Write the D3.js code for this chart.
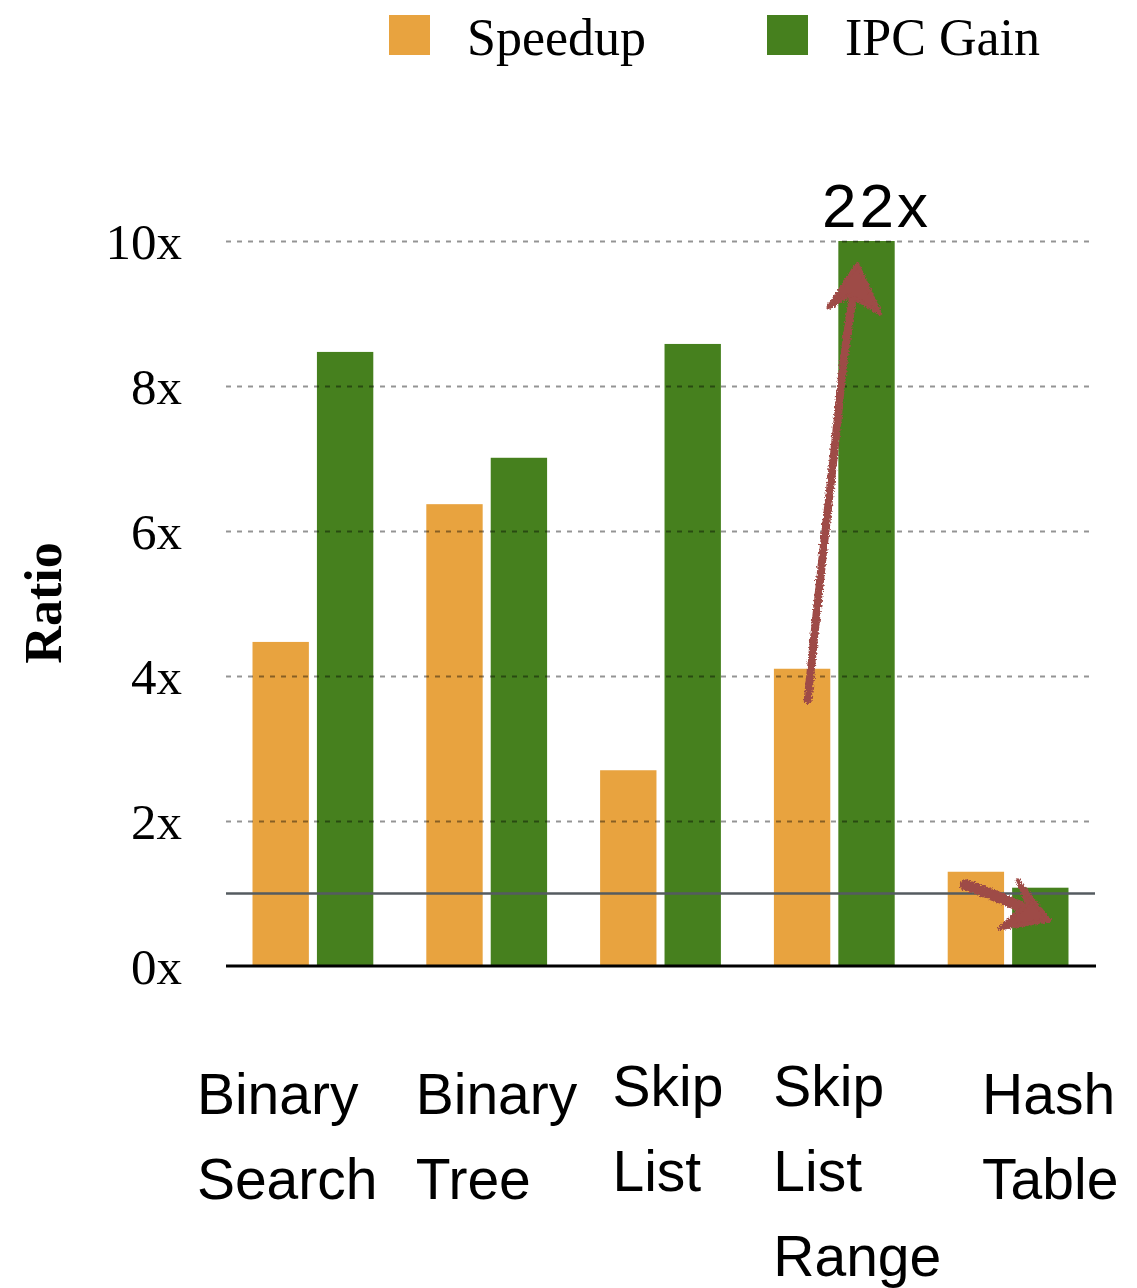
<!DOCTYPE html>
<html>
<head>
<meta charset="utf-8">
<script src="https://cdn.jsdelivr.net/npm/d3@7"></script>
<style>
  html, body { margin: 0; padding: 0; background: #fff; }
  svg { display: block; }
</style>
</head>
<body>
<svg id="chart" width="1137" height="1288"></svg>
<script>
// ---- data ----
const categories = ["Binary Search", "Binary Tree", "Skip List", "Skip List Range", "Hash Table"];
const categoryLines = [["Binary", "Search"], ["Binary", "Tree"], ["Skip", "List"], ["Skip", "List", "Range"], ["Hash", "Table"]];
const seriesNames = ["Speedup", "IPC Gain"];
const speedup = [4.47, 6.37, 2.70, 4.10, 1.30];
const ipcGain = [8.47, 7.01, 8.58, 22, 1.08];
const yTicks = [0, 2, 4, 6, 8, 10];
const yMax = 10;
const overflowLabel = "22x";

// hand-drawn annotation arrows, in (category, fraction across group, value) space
const arrowUpShaft = [[3, 0.28, 3.67], [3, 0.40, 5.6], [3, 0.50, 7.1], [3, 0.59, 8.5], [3, 0.68, 9.5]];
const arrowUpHead = [[3, 0.69, 9.68], [3, 0.45, 9.08], [3, 0.63, 9.25], [3, 0.88, 9.0]];
const arrowDownShaft = [[4, 0.145, 1.12], [4, 0.45, 0.93], [4, 0.76, 0.70]];
const arrowDownHead = [[4, 0.84, 0.63], [4, 0.58, 1.18], [4, 0.66, 0.86], [4, 0.43, 0.52]];

// ---- layout ----
const colors = ["#E8A33F", "#46801E"];
const plot = { left: 226, right: 1095, top: 241, bottom: 966 };
const serif = "'Liberation Serif', 'Times New Roman', Times, serif";
const sans = "'Liberation Sans', Arial, Helvetica, sans-serif";
// per-category nudges for the multi-line category labels
const labelShiftX = [-116, -71, -48, -61, -26];
const labelShiftY = [0, 0, -8, -8, 0];

const svg = d3.select("#chart");

const defs = svg.append("defs");
const rough = defs.append("filter").attr("id", "rough")
  .attr("x", "-20%").attr("y", "-20%").attr("width", "140%").attr("height", "140%");
rough.append("feTurbulence").attr("type", "fractalNoise").attr("baseFrequency", 0.55)
  .attr("numOctaves", 2).attr("seed", 3).attr("result", "noise");
rough.append("feDisplacementMap").attr("in", "SourceGraphic").attr("in2", "noise")
  .attr("scale", 5).attr("xChannelSelector", "R").attr("yChannelSelector", "G");

const x = d3.scaleBand().domain(categories).range([plot.left, plot.right])
  .paddingInner(0.305).paddingOuter(0.1525);
const xs = d3.scaleBand().domain(seriesNames).range([0, x.bandwidth()]).paddingInner(0.125).paddingOuter(0);
const y = d3.scaleLinear().domain([0, yMax]).range([plot.bottom, plot.top]).clamp(true);

const rows = categories.map((c, i) => ({ cat: c, values: [speedup[i], ipcGain[i]] }));

// bars
const groups = svg.append("g").selectAll("g").data(rows).join("g")
  .attr("transform", d => `translate(${x(d.cat)},0)`);
groups.selectAll("rect").data(d => d.values.map((v, k) => ({ key: seriesNames[k], v, k })))
  .join("rect")
  .attr("x", d => xs(d.key))
  .attr("width", xs.bandwidth())
  .attr("y", d => y(d.v))
  .attr("height", d => y(0) - y(d.v))
  .attr("fill", d => colors[d.k]);

// dashed gridlines (drawn over the bars)
const grid = svg.append("g").attr("transform", `translate(${plot.left},0)`)
  .call(d3.axisLeft(y).tickValues(yTicks.filter(t => t > 0))
    .tickSize(-(plot.right - plot.left)).tickFormat(""));
grid.select(".domain").remove();
grid.selectAll(".tick line")
  .attr("stroke", "#000").attr("stroke-opacity", 0.42)
  .attr("stroke-width", 2).attr("stroke-dasharray", "5,6");

// reference line at 1x
svg.append("line")
  .attr("x1", plot.left).attr("x2", plot.right)
  .attr("y1", y(1)).attr("y2", y(1))
  .attr("stroke", "#555b60").attr("stroke-width", 2.5);

// baseline
svg.append("line")
  .attr("x1", plot.left).attr("x2", plot.right + 1)
  .attr("y1", y(0)).attr("y2", y(0))
  .attr("stroke", "#000").attr("stroke-width", 3);

// y axis labels
const yAxis = svg.append("g").attr("transform", `translate(${plot.left},0)`)
  .call(d3.axisLeft(y).tickValues(yTicks).tickSize(0).tickPadding(44).tickFormat(d => d + "x"));
yAxis.select(".domain").remove();
yAxis.selectAll("text")
  .attr("font-family", serif).attr("font-size", 51).attr("fill", "#000").attr("dy", "0.35em");

// y axis title
svg.append("text")
  .attr("transform", "translate(61,603) rotate(-90)")
  .attr("text-anchor", "middle")
  .attr("font-family", serif).attr("font-weight", "bold").attr("font-size", 52)
  .text("Ratio");

// category labels
const xAxis = svg.append("g").attr("transform", `translate(0,${plot.bottom})`)
  .call(d3.axisBottom(x).tickSize(0).tickFormat(""));
xAxis.select(".domain").remove();
xAxis.selectAll(".tick").each(function (d, i) {
  const t = d3.select(this).append("text")
    .attr("x", labelShiftX[i])
    .attr("y", 148 + labelShiftY[i])
    .attr("text-anchor", "start")
    .attr("font-family", sans).attr("font-size", 57).attr("fill", "#000");
  categoryLines[i].forEach((line, j) => {
    t.append("tspan").attr("x", labelShiftX[i]).attr("dy", j === 0 ? 0 : 85).text(line);
  });
});

// overflow label for the clipped bar
const overIdx = ipcGain.findIndex(v => v > yMax);
svg.append("text")
  .attr("x", x(categories[overIdx]) + x.bandwidth() * 0.85)
  .attr("y", y(yMax) - 14)
  .attr("text-anchor", "middle")
  .attr("font-family", sans).attr("font-size", 62)
  .attr("letter-spacing", 3)
  .text(overflowLabel);

// legend
const legend = svg.append("g");
const legendX = [389, 767];
seriesNames.forEach((name, k) => {
  legend.append("rect").attr("x", legendX[k]).attr("y", 15).attr("width", 41).attr("height", 40)
    .attr("fill", colors[k]);
  legend.append("text").attr("x", legendX[k] + 78).attr("y", 55)
    .attr("font-family", serif).attr("font-size", 52).text(name);
});

// annotation arrows
const px = p => [x(categories[p[0]]) + p[1] * x.bandwidth(), y(p[2])];
const arrowColor = "#9E4B46";
const ann = svg.append("g").attr("filter", "url(#rough)");
const curve = d3.line().curve(d3.curveCatmullRom);
function drawArrow(shaft, head, width) {
  ann.append("path").attr("d", curve(shaft.map(px)))
    .attr("fill", "none").attr("stroke", arrowColor)
    .attr("stroke-width", width).attr("stroke-linecap", "round").attr("stroke-linejoin", "round");
  ann.append("path").attr("d", d3.line()(head.map(px)) + "Z")
    .attr("fill", arrowColor).attr("stroke", arrowColor)
    .attr("stroke-width", 4).attr("stroke-linejoin", "round");
}
drawArrow(arrowUpShaft, arrowUpHead, 8);
drawArrow(arrowDownShaft, arrowDownHead, 11);
</script>
</body>
</html>
